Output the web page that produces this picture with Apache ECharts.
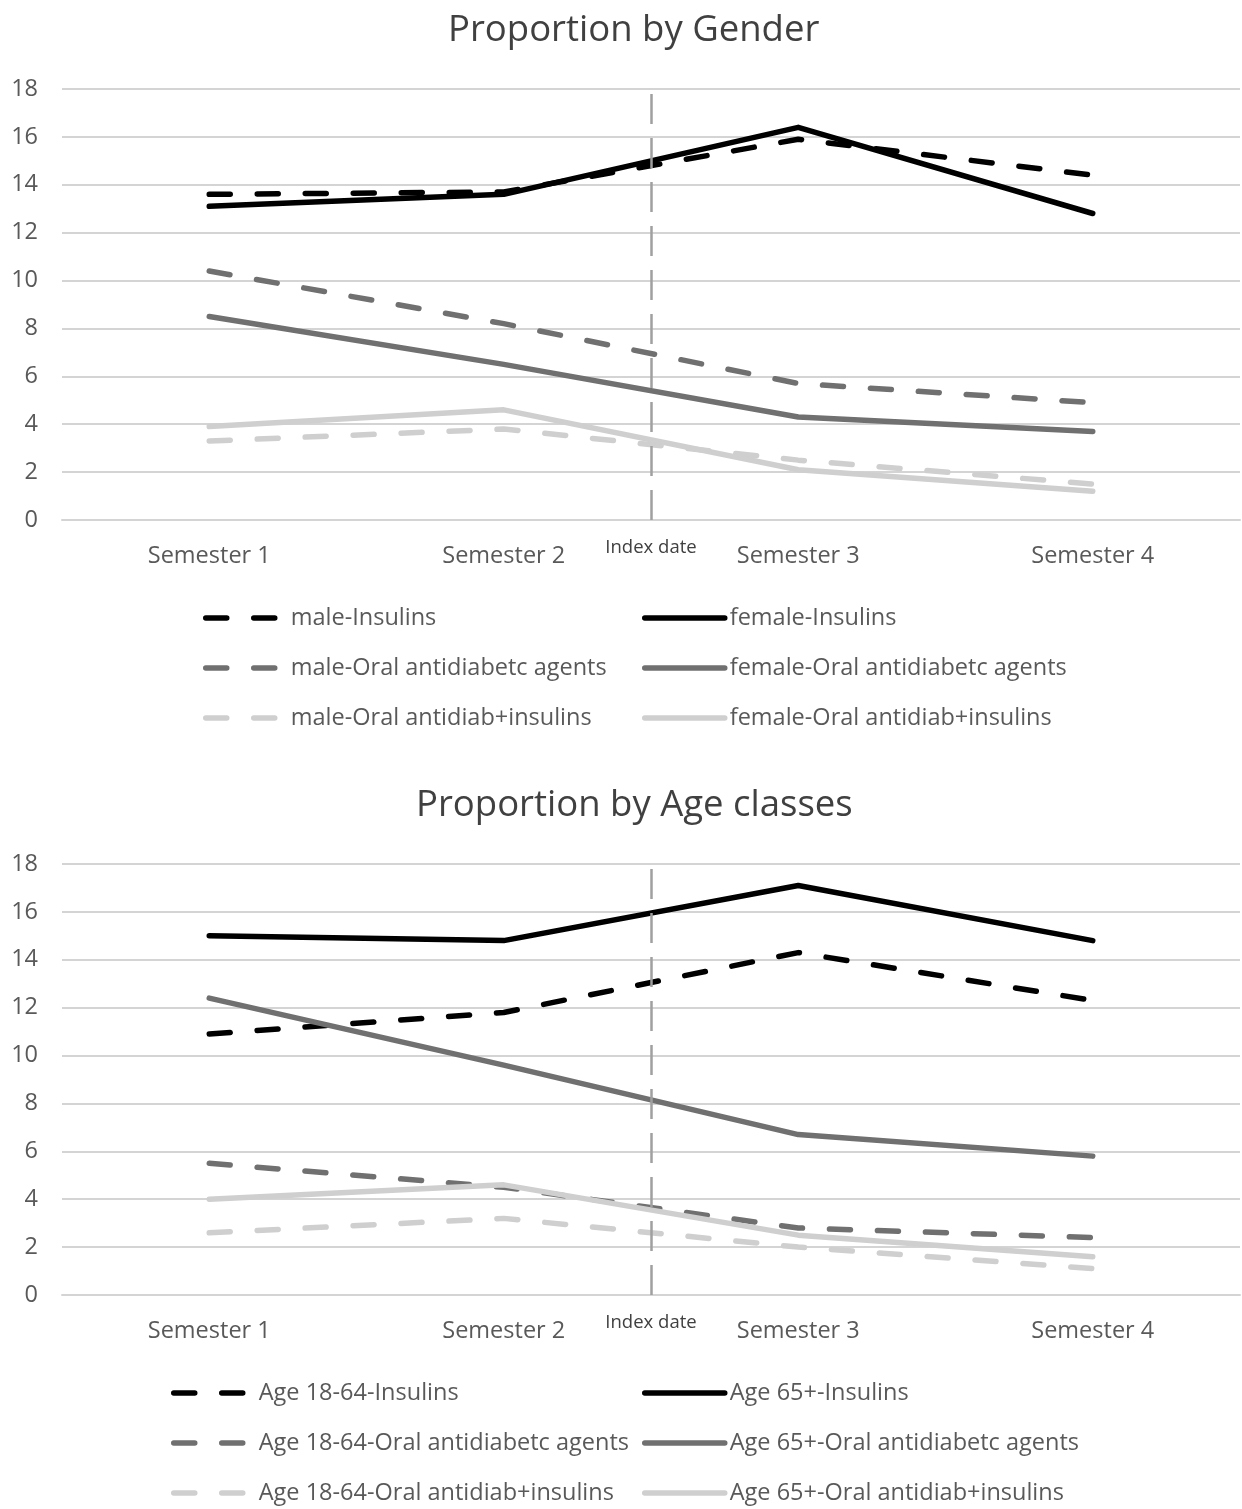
<!DOCTYPE html>
<html>
<head>
<meta charset="utf-8">
<script src="https://cdn.jsdelivr.net/npm/echarts@6/dist/echarts.min.js"></script>
<style>
  html, body { margin: 0; padding: 0; background: #ffffff; }
  #chart { width: 1242px; height: 1509px; }
</style>
</head>
<body>
<div id="chart"></div>
<script>
// Semesters around the index date
const categories = ['Semester 1', 'Semester 2', 'Semester 3', 'Semester 4'];
const indexDateLabel = 'Index date';
const indexDatePosition = 2; // boundary between Semester 2 and Semester 3

// Proportion by gender (%)
const maleInsulins = [13.6, 13.7, 15.9, 14.4];
const femaleInsulins = [13.1, 13.6, 16.4, 12.8];
const maleOral = [10.4, 8.2, 5.7, 4.9];
const femaleOral = [8.5, 6.5, 4.3, 3.7];
const maleCombo = [3.3, 3.8, 2.5, 1.5];
const femaleCombo = [3.9, 4.6, 2.1, 1.2];

// Proportion by age class (%)
const youngInsulins = [10.9, 11.8, 14.3, 12.3];
const oldInsulins = [15.0, 14.8, 17.1, 14.8];
const youngOral = [5.5, 4.5, 2.8, 2.4];
const oldOral = [12.4, 9.6, 6.7, 5.8];
const youngCombo = [2.6, 3.2, 2.0, 1.1];
const oldCombo = [4.0, 4.6, 2.5, 1.6];

const FONT = 'Open Sans';
const BLACK = '#000000';
const GRAY = '#707070';
const LIGHT = '#cfcfcf';
const DASH = [21, 27];
const LABEL_SIZE = 23.5;

function lineSeries(name, data, color, dashed, gridIdx) {
  return {
    name: name,
    type: 'line',
    data: data,
    xAxisIndex: gridIdx,
    yAxisIndex: gridIdx,
    symbol: 'none',
    showSymbol: false,
    lineStyle: { color: color, width: 5.5, type: dashed ? DASH : 'solid', cap: 'round', join: 'round' },
    itemStyle: { color: color },
    z: 3
  };
}

function indexDateSeries(gridIdx) {
  return {
    type: 'line',
    data: [],
    xAxisIndex: gridIdx + 2,
    yAxisIndex: gridIdx,
    silent: true,
    markLine: {
      silent: true,
      symbol: 'none',
      lineStyle: { color: '#a0a0a0', width: 2.5, type: [30, 14] },
      label: {
        show: true,
        position: 'start',
        formatter: indexDateLabel,
        distance: 18,
        fontFamily: FONT,
        fontSize: 18.5,
        color: '#404040'
      },
      data: [{ xAxis: indexDatePosition }]
    },
    z: 2
  };
}

const grids = [
  { left: 62, width: 1178, top: 89, height: 431 },
  { left: 62, width: 1178, top: 864, height: 431 }
];

function catAxis(gridIdx) {
  return {
    type: 'category',
    gridIndex: gridIdx,
    data: categories,
    boundaryGap: true,
    axisLine: { show: true, lineStyle: { color: '#d4d4d4', width: 2 } },
    axisTick: { show: false },
    axisLabel: { fontFamily: FONT, fontSize: LABEL_SIZE, color: '#595959', margin: 24 }
  };
}

function hiddenValueX(gridIdx) {
  return {
    type: 'value',
    gridIndex: gridIdx,
    min: 0,
    max: 4,
    show: false
  };
}

function yAxis(gridIdx) {
  return {
    type: 'value',
    gridIndex: gridIdx,
    min: 0,
    max: 18,
    interval: 2,
    axisLine: { show: false },
    axisTick: { show: false },
    splitLine: { show: true, lineStyle: { color: '#d4d4d4', width: 2 } },
    axisLabel: { fontFamily: FONT, fontSize: LABEL_SIZE, color: '#595959', margin: 24 }
  };
}

// One legend column: three entries stacked vertically
function legendColumn(top, left, names) {
  return {
    top: top,
    left: left,
    padding: 0,
    orient: 'vertical',
    itemWidth: 80,
    itemHeight: 14,
    itemGap: 24,
    lineStyle: { width: 5.5 },
    itemStyle: { opacity: 0 },
    textStyle: {
      fontFamily: FONT,
      fontSize: LABEL_SIZE,
      color: '#595959',
      lineHeight: 26
    },
    data: names,
    selectedMode: false
  };
}

const genderNames = [
  'male-Insulins', 'female-Insulins',
  'male-Oral antidiabetc agents', 'female-Oral antidiabetc agents',
  'male-Oral antidiab+insulins', 'female-Oral antidiab+insulins'
];
const ageNames = [
  'Age 18-64-Insulins', 'Age 65+-Insulins',
  'Age 18-64-Oral antidiabetc agents', 'Age 65+-Oral antidiabetc agents',
  'Age 18-64-Oral antidiab+insulins', 'Age 65+-Oral antidiab+insulins'
];

const titleStyle = { fontFamily: FONT, fontSize: 36.5, fontWeight: 'normal', color: '#404040' };

const option = {
  backgroundColor: '#ffffff',
  animation: false,
  title: [
    { text: 'Proportion by Gender', left: 448, top: 12, padding: 0, textStyle: titleStyle },
    { text: 'Proportion by Age classes', left: 416, top: 787, padding: 0, textStyle: titleStyle }
  ],
  grid: grids,
  xAxis: [catAxis(0), catAxis(1), hiddenValueX(0), hiddenValueX(1)],
  yAxis: [yAxis(0), yAxis(1)],
  legend: [
    legendColumn(605, 203, [genderNames[0], genderNames[2], genderNames[4]]),
    legendColumn(605, 642, [genderNames[1], genderNames[3], genderNames[5]]),
    legendColumn(1380, 171, [ageNames[0], ageNames[2], ageNames[4]]),
    legendColumn(1380, 642, [ageNames[1], ageNames[3], ageNames[5]])
  ],
  series: [
    indexDateSeries(0),
    indexDateSeries(1),
    lineSeries(genderNames[0], maleInsulins, BLACK, true, 0),
    lineSeries(genderNames[1], femaleInsulins, BLACK, false, 0),
    lineSeries(genderNames[2], maleOral, GRAY, true, 0),
    lineSeries(genderNames[3], femaleOral, GRAY, false, 0),
    lineSeries(genderNames[4], maleCombo, LIGHT, true, 0),
    lineSeries(genderNames[5], femaleCombo, LIGHT, false, 0),
    lineSeries(ageNames[0], youngInsulins, BLACK, true, 1),
    lineSeries(ageNames[1], oldInsulins, BLACK, false, 1),
    lineSeries(ageNames[2], youngOral, GRAY, true, 1),
    lineSeries(ageNames[3], oldOral, GRAY, false, 1),
    lineSeries(ageNames[4], youngCombo, LIGHT, true, 1),
    lineSeries(ageNames[5], oldCombo, LIGHT, false, 1)
  ]
};

const chart = echarts.init(document.getElementById('chart'), null, { renderer: 'canvas' });
chart.setOption(option);
</script>
</body>
</html>
